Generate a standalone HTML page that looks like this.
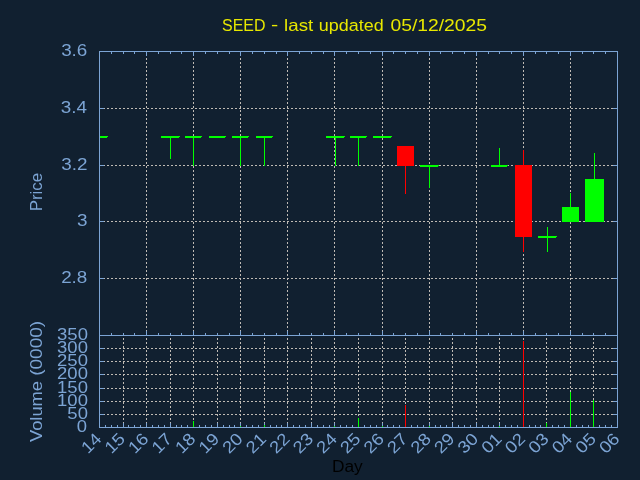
<!DOCTYPE html>
<html><head><meta charset="utf-8"><title>SEED chart</title>
<style>
html,body{margin:0;padding:0;background:#112030;}
svg{display:block;will-change:transform;}
text{font-family:"Liberation Sans",sans-serif;}
rect,line{shape-rendering:crispEdges;}
</style></head><body>
<svg width="640" height="480" viewBox="0 0 640 480">
<rect x="0" y="0" width="640" height="480" fill="#112030"/>
<text transform="translate(222.03,31.00) scale(0.9438,1)" font-size="16.9" fill="#e8e800">SEED</text>
<text transform="translate(270.93,29.60) scale(1.2800,1)" font-size="16.9" fill="#e8e800">-</text>
<text transform="translate(284.08,31.00) scale(1.1077,1)" font-size="16.9" fill="#e8e800">last</text>
<text transform="translate(318.83,31.00) scale(1.0612,1)" font-size="16.9" fill="#e8e800">updated</text>
<text transform="translate(390.48,31.00) scale(1.1414,1)" font-size="16.9" fill="#e8e800">05/12/2025</text>
<line x1="100" y1="108.5" x2="617" y2="108.5" stroke="#bfbab4" stroke-width="1" stroke-dasharray="2 2" stroke-dashoffset="1"/>
<line x1="100" y1="165.5" x2="617" y2="165.5" stroke="#bfbab4" stroke-width="1" stroke-dasharray="2 2" stroke-dashoffset="1"/>
<line x1="100" y1="221.5" x2="617" y2="221.5" stroke="#bfbab4" stroke-width="1" stroke-dasharray="2 2" stroke-dashoffset="1"/>
<line x1="100" y1="278.5" x2="617" y2="278.5" stroke="#bfbab4" stroke-width="1" stroke-dasharray="2 2" stroke-dashoffset="1"/>
<line x1="146.5" y1="52" x2="146.5" y2="335" stroke="#bfbab4" stroke-width="1" stroke-dasharray="2 2" stroke-dashoffset="2"/>
<line x1="193.5" y1="52" x2="193.5" y2="335" stroke="#bfbab4" stroke-width="1" stroke-dasharray="2 2" stroke-dashoffset="2"/>
<line x1="240.5" y1="52" x2="240.5" y2="335" stroke="#bfbab4" stroke-width="1" stroke-dasharray="2 2" stroke-dashoffset="2"/>
<line x1="287.5" y1="52" x2="287.5" y2="335" stroke="#bfbab4" stroke-width="1" stroke-dasharray="2 2" stroke-dashoffset="2"/>
<line x1="334.5" y1="52" x2="334.5" y2="335" stroke="#bfbab4" stroke-width="1" stroke-dasharray="2 2" stroke-dashoffset="2"/>
<line x1="382.5" y1="52" x2="382.5" y2="335" stroke="#bfbab4" stroke-width="1" stroke-dasharray="2 2" stroke-dashoffset="2"/>
<line x1="429.5" y1="52" x2="429.5" y2="335" stroke="#bfbab4" stroke-width="1" stroke-dasharray="2 2" stroke-dashoffset="2"/>
<line x1="476.5" y1="52" x2="476.5" y2="335" stroke="#bfbab4" stroke-width="1" stroke-dasharray="2 2" stroke-dashoffset="2"/>
<line x1="523.5" y1="52" x2="523.5" y2="335" stroke="#bfbab4" stroke-width="1" stroke-dasharray="2 2" stroke-dashoffset="2"/>
<line x1="570.5" y1="52" x2="570.5" y2="335" stroke="#bfbab4" stroke-width="1" stroke-dasharray="2 2" stroke-dashoffset="2"/>
<line x1="100" y1="348.5" x2="617" y2="348.5" stroke="#bfbab4" stroke-width="1" stroke-dasharray="2 2" stroke-dashoffset="1"/>
<line x1="100" y1="361.5" x2="617" y2="361.5" stroke="#bfbab4" stroke-width="1" stroke-dasharray="2 2" stroke-dashoffset="1"/>
<line x1="100" y1="374.5" x2="617" y2="374.5" stroke="#bfbab4" stroke-width="1" stroke-dasharray="2 2" stroke-dashoffset="1"/>
<line x1="100" y1="388.5" x2="617" y2="388.5" stroke="#bfbab4" stroke-width="1" stroke-dasharray="2 2" stroke-dashoffset="1"/>
<line x1="100" y1="401.5" x2="617" y2="401.5" stroke="#bfbab4" stroke-width="1" stroke-dasharray="2 2" stroke-dashoffset="1"/>
<line x1="100" y1="414.5" x2="617" y2="414.5" stroke="#bfbab4" stroke-width="1" stroke-dasharray="2 2" stroke-dashoffset="1"/>
<line x1="123.5" y1="336" x2="123.5" y2="427" stroke="#bfbab4" stroke-width="1" stroke-dasharray="2 2" stroke-dashoffset="2"/>
<line x1="146.5" y1="336" x2="146.5" y2="427" stroke="#bfbab4" stroke-width="1" stroke-dasharray="2 2" stroke-dashoffset="2"/>
<line x1="170.5" y1="336" x2="170.5" y2="427" stroke="#bfbab4" stroke-width="1" stroke-dasharray="2 2" stroke-dashoffset="2"/>
<line x1="193.5" y1="336" x2="193.5" y2="427" stroke="#bfbab4" stroke-width="1" stroke-dasharray="2 2" stroke-dashoffset="2"/>
<line x1="217.5" y1="336" x2="217.5" y2="427" stroke="#bfbab4" stroke-width="1" stroke-dasharray="2 2" stroke-dashoffset="2"/>
<line x1="240.5" y1="336" x2="240.5" y2="427" stroke="#bfbab4" stroke-width="1" stroke-dasharray="2 2" stroke-dashoffset="2"/>
<line x1="264.5" y1="336" x2="264.5" y2="427" stroke="#bfbab4" stroke-width="1" stroke-dasharray="2 2" stroke-dashoffset="2"/>
<line x1="287.5" y1="336" x2="287.5" y2="427" stroke="#bfbab4" stroke-width="1" stroke-dasharray="2 2" stroke-dashoffset="2"/>
<line x1="311.5" y1="336" x2="311.5" y2="427" stroke="#bfbab4" stroke-width="1" stroke-dasharray="2 2" stroke-dashoffset="2"/>
<line x1="334.5" y1="336" x2="334.5" y2="427" stroke="#bfbab4" stroke-width="1" stroke-dasharray="2 2" stroke-dashoffset="2"/>
<line x1="358.5" y1="336" x2="358.5" y2="427" stroke="#bfbab4" stroke-width="1" stroke-dasharray="2 2" stroke-dashoffset="2"/>
<line x1="382.5" y1="336" x2="382.5" y2="427" stroke="#bfbab4" stroke-width="1" stroke-dasharray="2 2" stroke-dashoffset="2"/>
<line x1="405.5" y1="336" x2="405.5" y2="427" stroke="#bfbab4" stroke-width="1" stroke-dasharray="2 2" stroke-dashoffset="2"/>
<line x1="429.5" y1="336" x2="429.5" y2="427" stroke="#bfbab4" stroke-width="1" stroke-dasharray="2 2" stroke-dashoffset="2"/>
<line x1="452.5" y1="336" x2="452.5" y2="427" stroke="#bfbab4" stroke-width="1" stroke-dasharray="2 2" stroke-dashoffset="2"/>
<line x1="476.5" y1="336" x2="476.5" y2="427" stroke="#bfbab4" stroke-width="1" stroke-dasharray="2 2" stroke-dashoffset="2"/>
<line x1="499.5" y1="336" x2="499.5" y2="427" stroke="#bfbab4" stroke-width="1" stroke-dasharray="2 2" stroke-dashoffset="2"/>
<line x1="523.5" y1="336" x2="523.5" y2="427" stroke="#bfbab4" stroke-width="1" stroke-dasharray="2 2" stroke-dashoffset="2"/>
<line x1="546.5" y1="336" x2="546.5" y2="427" stroke="#bfbab4" stroke-width="1" stroke-dasharray="2 2" stroke-dashoffset="2"/>
<line x1="570.5" y1="336" x2="570.5" y2="427" stroke="#bfbab4" stroke-width="1" stroke-dasharray="2 2" stroke-dashoffset="2"/>
<line x1="593.5" y1="336" x2="593.5" y2="427" stroke="#bfbab4" stroke-width="1" stroke-dasharray="2 2" stroke-dashoffset="2"/>
<rect x="99" y="51" width="519" height="1" fill="#7ca4d4"/>
<rect x="99" y="335" width="519" height="1" fill="#7ca4d4"/>
<rect x="99" y="427" width="519" height="1" fill="#7ca4d4"/>
<rect x="99" y="51" width="1" height="377" fill="#7ca4d4"/>
<rect x="617" y="51" width="1" height="377" fill="#7ca4d4"/>
<rect x="100" y="108" width="4" height="1" fill="#7ca4d4"/>
<rect x="613" y="108" width="4" height="1" fill="#7ca4d4"/>
<rect x="100" y="165" width="4" height="1" fill="#7ca4d4"/>
<rect x="613" y="165" width="4" height="1" fill="#7ca4d4"/>
<rect x="100" y="221" width="4" height="1" fill="#7ca4d4"/>
<rect x="613" y="221" width="4" height="1" fill="#7ca4d4"/>
<rect x="100" y="278" width="4" height="1" fill="#7ca4d4"/>
<rect x="613" y="278" width="4" height="1" fill="#7ca4d4"/>
<rect x="111" y="52" width="1" height="2" fill="#7ca4d4"/>
<rect x="111" y="333" width="1" height="2" fill="#7ca4d4"/>
<rect x="123" y="52" width="1" height="2" fill="#7ca4d4"/>
<rect x="123" y="333" width="1" height="2" fill="#7ca4d4"/>
<rect x="134" y="52" width="1" height="2" fill="#7ca4d4"/>
<rect x="134" y="333" width="1" height="2" fill="#7ca4d4"/>
<rect x="146" y="52" width="1" height="4" fill="#7ca4d4"/>
<rect x="146" y="331" width="1" height="4" fill="#7ca4d4"/>
<rect x="158" y="52" width="1" height="2" fill="#7ca4d4"/>
<rect x="158" y="333" width="1" height="2" fill="#7ca4d4"/>
<rect x="170" y="52" width="1" height="2" fill="#7ca4d4"/>
<rect x="170" y="333" width="1" height="2" fill="#7ca4d4"/>
<rect x="181" y="52" width="1" height="2" fill="#7ca4d4"/>
<rect x="181" y="333" width="1" height="2" fill="#7ca4d4"/>
<rect x="193" y="52" width="1" height="4" fill="#7ca4d4"/>
<rect x="193" y="331" width="1" height="4" fill="#7ca4d4"/>
<rect x="205" y="52" width="1" height="2" fill="#7ca4d4"/>
<rect x="205" y="333" width="1" height="2" fill="#7ca4d4"/>
<rect x="217" y="52" width="1" height="2" fill="#7ca4d4"/>
<rect x="217" y="333" width="1" height="2" fill="#7ca4d4"/>
<rect x="229" y="52" width="1" height="2" fill="#7ca4d4"/>
<rect x="229" y="333" width="1" height="2" fill="#7ca4d4"/>
<rect x="240" y="52" width="1" height="4" fill="#7ca4d4"/>
<rect x="240" y="331" width="1" height="4" fill="#7ca4d4"/>
<rect x="252" y="52" width="1" height="2" fill="#7ca4d4"/>
<rect x="252" y="333" width="1" height="2" fill="#7ca4d4"/>
<rect x="264" y="52" width="1" height="2" fill="#7ca4d4"/>
<rect x="264" y="333" width="1" height="2" fill="#7ca4d4"/>
<rect x="276" y="52" width="1" height="2" fill="#7ca4d4"/>
<rect x="276" y="333" width="1" height="2" fill="#7ca4d4"/>
<rect x="287" y="52" width="1" height="4" fill="#7ca4d4"/>
<rect x="287" y="331" width="1" height="4" fill="#7ca4d4"/>
<rect x="299" y="52" width="1" height="2" fill="#7ca4d4"/>
<rect x="299" y="333" width="1" height="2" fill="#7ca4d4"/>
<rect x="311" y="52" width="1" height="2" fill="#7ca4d4"/>
<rect x="311" y="333" width="1" height="2" fill="#7ca4d4"/>
<rect x="323" y="52" width="1" height="2" fill="#7ca4d4"/>
<rect x="323" y="333" width="1" height="2" fill="#7ca4d4"/>
<rect x="334" y="52" width="1" height="4" fill="#7ca4d4"/>
<rect x="334" y="331" width="1" height="4" fill="#7ca4d4"/>
<rect x="346" y="52" width="1" height="2" fill="#7ca4d4"/>
<rect x="346" y="333" width="1" height="2" fill="#7ca4d4"/>
<rect x="358" y="52" width="1" height="2" fill="#7ca4d4"/>
<rect x="358" y="333" width="1" height="2" fill="#7ca4d4"/>
<rect x="370" y="52" width="1" height="2" fill="#7ca4d4"/>
<rect x="370" y="333" width="1" height="2" fill="#7ca4d4"/>
<rect x="382" y="52" width="1" height="4" fill="#7ca4d4"/>
<rect x="382" y="331" width="1" height="4" fill="#7ca4d4"/>
<rect x="393" y="52" width="1" height="2" fill="#7ca4d4"/>
<rect x="393" y="333" width="1" height="2" fill="#7ca4d4"/>
<rect x="405" y="52" width="1" height="2" fill="#7ca4d4"/>
<rect x="405" y="333" width="1" height="2" fill="#7ca4d4"/>
<rect x="417" y="52" width="1" height="2" fill="#7ca4d4"/>
<rect x="417" y="333" width="1" height="2" fill="#7ca4d4"/>
<rect x="429" y="52" width="1" height="4" fill="#7ca4d4"/>
<rect x="429" y="331" width="1" height="4" fill="#7ca4d4"/>
<rect x="440" y="52" width="1" height="2" fill="#7ca4d4"/>
<rect x="440" y="333" width="1" height="2" fill="#7ca4d4"/>
<rect x="452" y="52" width="1" height="2" fill="#7ca4d4"/>
<rect x="452" y="333" width="1" height="2" fill="#7ca4d4"/>
<rect x="464" y="52" width="1" height="2" fill="#7ca4d4"/>
<rect x="464" y="333" width="1" height="2" fill="#7ca4d4"/>
<rect x="476" y="52" width="1" height="4" fill="#7ca4d4"/>
<rect x="476" y="331" width="1" height="4" fill="#7ca4d4"/>
<rect x="488" y="52" width="1" height="2" fill="#7ca4d4"/>
<rect x="488" y="333" width="1" height="2" fill="#7ca4d4"/>
<rect x="499" y="52" width="1" height="2" fill="#7ca4d4"/>
<rect x="499" y="333" width="1" height="2" fill="#7ca4d4"/>
<rect x="511" y="52" width="1" height="2" fill="#7ca4d4"/>
<rect x="511" y="333" width="1" height="2" fill="#7ca4d4"/>
<rect x="523" y="52" width="1" height="4" fill="#7ca4d4"/>
<rect x="523" y="331" width="1" height="4" fill="#7ca4d4"/>
<rect x="535" y="52" width="1" height="2" fill="#7ca4d4"/>
<rect x="535" y="333" width="1" height="2" fill="#7ca4d4"/>
<rect x="546" y="52" width="1" height="2" fill="#7ca4d4"/>
<rect x="546" y="333" width="1" height="2" fill="#7ca4d4"/>
<rect x="558" y="52" width="1" height="2" fill="#7ca4d4"/>
<rect x="558" y="333" width="1" height="2" fill="#7ca4d4"/>
<rect x="570" y="52" width="1" height="4" fill="#7ca4d4"/>
<rect x="570" y="331" width="1" height="4" fill="#7ca4d4"/>
<rect x="582" y="52" width="1" height="2" fill="#7ca4d4"/>
<rect x="582" y="333" width="1" height="2" fill="#7ca4d4"/>
<rect x="593" y="52" width="1" height="2" fill="#7ca4d4"/>
<rect x="593" y="333" width="1" height="2" fill="#7ca4d4"/>
<rect x="605" y="52" width="1" height="2" fill="#7ca4d4"/>
<rect x="605" y="333" width="1" height="2" fill="#7ca4d4"/>
<rect x="100" y="348" width="4" height="1" fill="#7ca4d4"/>
<rect x="613" y="348" width="4" height="1" fill="#7ca4d4"/>
<rect x="100" y="361" width="4" height="1" fill="#7ca4d4"/>
<rect x="613" y="361" width="4" height="1" fill="#7ca4d4"/>
<rect x="100" y="374" width="4" height="1" fill="#7ca4d4"/>
<rect x="613" y="374" width="4" height="1" fill="#7ca4d4"/>
<rect x="100" y="388" width="4" height="1" fill="#7ca4d4"/>
<rect x="613" y="388" width="4" height="1" fill="#7ca4d4"/>
<rect x="100" y="401" width="4" height="1" fill="#7ca4d4"/>
<rect x="613" y="401" width="4" height="1" fill="#7ca4d4"/>
<rect x="100" y="414" width="4" height="1" fill="#7ca4d4"/>
<rect x="613" y="414" width="4" height="1" fill="#7ca4d4"/>
<rect x="105" y="425" width="1" height="2" fill="#7ca4d4"/>
<rect x="111" y="425" width="1" height="2" fill="#7ca4d4"/>
<rect x="117" y="425" width="1" height="2" fill="#7ca4d4"/>
<rect x="123" y="423" width="1" height="4" fill="#7ca4d4"/>
<rect x="128" y="425" width="1" height="2" fill="#7ca4d4"/>
<rect x="134" y="425" width="1" height="2" fill="#7ca4d4"/>
<rect x="140" y="425" width="1" height="2" fill="#7ca4d4"/>
<rect x="146" y="423" width="1" height="4" fill="#7ca4d4"/>
<rect x="152" y="425" width="1" height="2" fill="#7ca4d4"/>
<rect x="158" y="425" width="1" height="2" fill="#7ca4d4"/>
<rect x="164" y="425" width="1" height="2" fill="#7ca4d4"/>
<rect x="170" y="423" width="1" height="4" fill="#7ca4d4"/>
<rect x="176" y="425" width="1" height="2" fill="#7ca4d4"/>
<rect x="181" y="425" width="1" height="2" fill="#7ca4d4"/>
<rect x="187" y="425" width="1" height="2" fill="#7ca4d4"/>
<rect x="193" y="423" width="1" height="4" fill="#7ca4d4"/>
<rect x="199" y="425" width="1" height="2" fill="#7ca4d4"/>
<rect x="205" y="425" width="1" height="2" fill="#7ca4d4"/>
<rect x="211" y="425" width="1" height="2" fill="#7ca4d4"/>
<rect x="217" y="423" width="1" height="4" fill="#7ca4d4"/>
<rect x="223" y="425" width="1" height="2" fill="#7ca4d4"/>
<rect x="229" y="425" width="1" height="2" fill="#7ca4d4"/>
<rect x="234" y="425" width="1" height="2" fill="#7ca4d4"/>
<rect x="240" y="423" width="1" height="4" fill="#7ca4d4"/>
<rect x="246" y="425" width="1" height="2" fill="#7ca4d4"/>
<rect x="252" y="425" width="1" height="2" fill="#7ca4d4"/>
<rect x="258" y="425" width="1" height="2" fill="#7ca4d4"/>
<rect x="264" y="423" width="1" height="4" fill="#7ca4d4"/>
<rect x="270" y="425" width="1" height="2" fill="#7ca4d4"/>
<rect x="276" y="425" width="1" height="2" fill="#7ca4d4"/>
<rect x="281" y="425" width="1" height="2" fill="#7ca4d4"/>
<rect x="287" y="423" width="1" height="4" fill="#7ca4d4"/>
<rect x="293" y="425" width="1" height="2" fill="#7ca4d4"/>
<rect x="299" y="425" width="1" height="2" fill="#7ca4d4"/>
<rect x="305" y="425" width="1" height="2" fill="#7ca4d4"/>
<rect x="311" y="423" width="1" height="4" fill="#7ca4d4"/>
<rect x="317" y="425" width="1" height="2" fill="#7ca4d4"/>
<rect x="323" y="425" width="1" height="2" fill="#7ca4d4"/>
<rect x="329" y="425" width="1" height="2" fill="#7ca4d4"/>
<rect x="334" y="423" width="1" height="4" fill="#7ca4d4"/>
<rect x="340" y="425" width="1" height="2" fill="#7ca4d4"/>
<rect x="346" y="425" width="1" height="2" fill="#7ca4d4"/>
<rect x="352" y="425" width="1" height="2" fill="#7ca4d4"/>
<rect x="358" y="423" width="1" height="4" fill="#7ca4d4"/>
<rect x="364" y="425" width="1" height="2" fill="#7ca4d4"/>
<rect x="370" y="425" width="1" height="2" fill="#7ca4d4"/>
<rect x="376" y="425" width="1" height="2" fill="#7ca4d4"/>
<rect x="382" y="423" width="1" height="4" fill="#7ca4d4"/>
<rect x="387" y="425" width="1" height="2" fill="#7ca4d4"/>
<rect x="393" y="425" width="1" height="2" fill="#7ca4d4"/>
<rect x="399" y="425" width="1" height="2" fill="#7ca4d4"/>
<rect x="405" y="423" width="1" height="4" fill="#7ca4d4"/>
<rect x="411" y="425" width="1" height="2" fill="#7ca4d4"/>
<rect x="417" y="425" width="1" height="2" fill="#7ca4d4"/>
<rect x="423" y="425" width="1" height="2" fill="#7ca4d4"/>
<rect x="429" y="423" width="1" height="4" fill="#7ca4d4"/>
<rect x="435" y="425" width="1" height="2" fill="#7ca4d4"/>
<rect x="440" y="425" width="1" height="2" fill="#7ca4d4"/>
<rect x="446" y="425" width="1" height="2" fill="#7ca4d4"/>
<rect x="452" y="423" width="1" height="4" fill="#7ca4d4"/>
<rect x="458" y="425" width="1" height="2" fill="#7ca4d4"/>
<rect x="464" y="425" width="1" height="2" fill="#7ca4d4"/>
<rect x="470" y="425" width="1" height="2" fill="#7ca4d4"/>
<rect x="476" y="423" width="1" height="4" fill="#7ca4d4"/>
<rect x="482" y="425" width="1" height="2" fill="#7ca4d4"/>
<rect x="488" y="425" width="1" height="2" fill="#7ca4d4"/>
<rect x="493" y="425" width="1" height="2" fill="#7ca4d4"/>
<rect x="499" y="423" width="1" height="4" fill="#7ca4d4"/>
<rect x="505" y="425" width="1" height="2" fill="#7ca4d4"/>
<rect x="511" y="425" width="1" height="2" fill="#7ca4d4"/>
<rect x="517" y="425" width="1" height="2" fill="#7ca4d4"/>
<rect x="523" y="423" width="1" height="4" fill="#7ca4d4"/>
<rect x="529" y="425" width="1" height="2" fill="#7ca4d4"/>
<rect x="535" y="425" width="1" height="2" fill="#7ca4d4"/>
<rect x="540" y="425" width="1" height="2" fill="#7ca4d4"/>
<rect x="546" y="423" width="1" height="4" fill="#7ca4d4"/>
<rect x="552" y="425" width="1" height="2" fill="#7ca4d4"/>
<rect x="558" y="425" width="1" height="2" fill="#7ca4d4"/>
<rect x="564" y="425" width="1" height="2" fill="#7ca4d4"/>
<rect x="570" y="423" width="1" height="4" fill="#7ca4d4"/>
<rect x="576" y="425" width="1" height="2" fill="#7ca4d4"/>
<rect x="582" y="425" width="1" height="2" fill="#7ca4d4"/>
<rect x="588" y="425" width="1" height="2" fill="#7ca4d4"/>
<rect x="593" y="423" width="1" height="4" fill="#7ca4d4"/>
<rect x="599" y="425" width="1" height="2" fill="#7ca4d4"/>
<rect x="605" y="425" width="1" height="2" fill="#7ca4d4"/>
<rect x="611" y="425" width="1" height="2" fill="#7ca4d4"/>
<rect x="100" y="136" width="8" height="1" fill="#00ff00"/>
<rect x="100" y="137" width="7" height="1" fill="#00ff00"/>
<rect x="170" y="136" width="1" height="23" fill="#00ff00"/>
<rect x="161" y="136" width="19" height="1" fill="#00ff00"/>
<rect x="161" y="137" width="18" height="1" fill="#00ff00"/>
<rect x="193" y="136" width="1" height="30" fill="#00ff00"/>
<rect x="185" y="136" width="17" height="1" fill="#00ff00"/>
<rect x="185" y="137" width="16" height="1" fill="#00ff00"/>
<rect x="209" y="136" width="17" height="1" fill="#00ff00"/>
<rect x="209" y="137" width="16" height="1" fill="#00ff00"/>
<rect x="240" y="136" width="1" height="30" fill="#00ff00"/>
<rect x="232" y="136" width="17" height="1" fill="#00ff00"/>
<rect x="232" y="137" width="16" height="1" fill="#00ff00"/>
<rect x="264" y="136" width="1" height="30" fill="#00ff00"/>
<rect x="256" y="136" width="17" height="1" fill="#00ff00"/>
<rect x="256" y="137" width="16" height="1" fill="#00ff00"/>
<rect x="335" y="136" width="1" height="30" fill="#00ff00"/>
<rect x="326" y="136" width="19" height="1" fill="#00ff00"/>
<rect x="326" y="137" width="18" height="1" fill="#00ff00"/>
<rect x="358" y="136" width="1" height="30" fill="#00ff00"/>
<rect x="350" y="136" width="17" height="1" fill="#00ff00"/>
<rect x="350" y="137" width="16" height="1" fill="#00ff00"/>
<rect x="373" y="136" width="19" height="1" fill="#00ff00"/>
<rect x="373" y="137" width="18" height="1" fill="#00ff00"/>
<rect x="405" y="146" width="1" height="48" fill="#ff0000"/>
<rect x="397" y="146" width="17" height="20" fill="#ff0000"/>
<rect x="429" y="165" width="1" height="23" fill="#00ff00"/>
<rect x="420" y="165" width="19" height="1" fill="#00ff00"/>
<rect x="420" y="166" width="18" height="1" fill="#00ff00"/>
<rect x="499" y="148" width="1" height="19" fill="#00ff00"/>
<rect x="491" y="165" width="17" height="1" fill="#00ff00"/>
<rect x="491" y="166" width="16" height="1" fill="#00ff00"/>
<rect x="523" y="150" width="1" height="102" fill="#ff0000"/>
<rect x="515" y="165" width="17" height="72" fill="#ff0000"/>
<rect x="547" y="227" width="1" height="25" fill="#00ff00"/>
<rect x="538" y="236" width="19" height="1" fill="#00ff00"/>
<rect x="538" y="237" width="18" height="1" fill="#00ff00"/>
<rect x="570" y="193" width="1" height="29" fill="#00ff00"/>
<rect x="562" y="207" width="17" height="15" fill="#00ff00"/>
<rect x="594" y="153" width="1" height="69" fill="#00ff00"/>
<rect x="585" y="179" width="19" height="43" fill="#00ff00"/>
<rect x="193" y="421" width="1" height="6" fill="#00ff00"/>
<rect x="240" y="426" width="1" height="1" fill="#00ff00"/>
<rect x="264" y="425" width="1" height="2" fill="#00ff00"/>
<rect x="334" y="426" width="1" height="1" fill="#00ff00"/>
<rect x="358" y="418" width="1" height="9" fill="#00ff00"/>
<rect x="382" y="426" width="1" height="1" fill="#00ff00"/>
<rect x="405" y="405" width="1" height="22" fill="#ff0000"/>
<rect x="429" y="426" width="1" height="1" fill="#00ff00"/>
<rect x="499" y="426" width="1" height="1" fill="#00ff00"/>
<rect x="523" y="341" width="1" height="86" fill="#ff0000"/>
<rect x="546" y="423" width="1" height="4" fill="#00ff00"/>
<rect x="570" y="392" width="1" height="35" fill="#00ff00"/>
<rect x="593" y="400" width="1" height="27" fill="#00ff00"/>
<text transform="translate(61.13,56.00) scale(1.1160,1)" font-size="16.9" fill="#7ca4d4">3.6</text>
<text transform="translate(60.85,113.00) scale(1.1160,1)" font-size="16.9" fill="#7ca4d4">3.4</text>
<text transform="translate(61.23,170.00) scale(1.1160,1)" font-size="16.9" fill="#7ca4d4">3.2</text>
<text transform="translate(76.88,226.00) scale(1.1160,1)" font-size="16.9" fill="#7ca4d4">3</text>
<text transform="translate(61.13,283.00) scale(1.1160,1)" font-size="16.9" fill="#7ca4d4">2.8</text>
<text transform="translate(76.76,432.00) scale(1.0960,1)" font-size="16.9" fill="#7ca4d4">0</text>
<text transform="translate(67.34,419.00) scale(1.0960,1)" font-size="16.9" fill="#7ca4d4">50</text>
<text transform="translate(57.06,406.00) scale(1.0960,1)" font-size="16.9" fill="#7ca4d4">100</text>
<text transform="translate(57.06,393.00) scale(1.0960,1)" font-size="16.9" fill="#7ca4d4">150</text>
<text transform="translate(57.06,379.00) scale(1.0960,1)" font-size="16.9" fill="#7ca4d4">200</text>
<text transform="translate(57.06,366.00) scale(1.0960,1)" font-size="16.9" fill="#7ca4d4">250</text>
<text transform="translate(57.06,353.00) scale(1.0960,1)" font-size="16.9" fill="#7ca4d4">300</text>
<text transform="translate(57.06,340.00) scale(1.0960,1)" font-size="16.9" fill="#7ca4d4">350</text>
<text transform="translate(42.00,211.35) rotate(-90) scale(1.0022,1)" font-size="16.9" fill="#7ca4d4">Price</text>
<text transform="translate(42.00,442.09) rotate(-90) scale(1.0862,1)" font-size="16.9" fill="#7ca4d4">Volume</text>
<text transform="translate(42.00,375.84) rotate(-90) scale(1.1258,1)" font-size="16.9" fill="#7ca4d4">(0000)</text>
<text transform="translate(331.91,472.00) scale(1.0263,1)" font-size="16.9" fill="#000000">Day</text>
<text transform="translate(102.50,440.00) rotate(-45) scale(1.1,1)" font-size="16.9" text-anchor="end" fill="#7ca4d4">14</text>
<text transform="translate(126.05,440.00) rotate(-45) scale(1.1,1)" font-size="16.9" text-anchor="end" fill="#7ca4d4">15</text>
<text transform="translate(149.59,440.00) rotate(-45) scale(1.1,1)" font-size="16.9" text-anchor="end" fill="#7ca4d4">16</text>
<text transform="translate(173.14,440.00) rotate(-45) scale(1.1,1)" font-size="16.9" text-anchor="end" fill="#7ca4d4">17</text>
<text transform="translate(196.68,440.00) rotate(-45) scale(1.1,1)" font-size="16.9" text-anchor="end" fill="#7ca4d4">18</text>
<text transform="translate(220.23,440.00) rotate(-45) scale(1.1,1)" font-size="16.9" text-anchor="end" fill="#7ca4d4">19</text>
<text transform="translate(243.77,440.00) rotate(-45) scale(1.1,1)" font-size="16.9" text-anchor="end" fill="#7ca4d4">20</text>
<text transform="translate(267.32,440.00) rotate(-45) scale(1.1,1)" font-size="16.9" text-anchor="end" fill="#7ca4d4">21</text>
<text transform="translate(290.86,440.00) rotate(-45) scale(1.1,1)" font-size="16.9" text-anchor="end" fill="#7ca4d4">22</text>
<text transform="translate(314.41,440.00) rotate(-45) scale(1.1,1)" font-size="16.9" text-anchor="end" fill="#7ca4d4">23</text>
<text transform="translate(337.95,440.00) rotate(-45) scale(1.1,1)" font-size="16.9" text-anchor="end" fill="#7ca4d4">24</text>
<text transform="translate(361.50,440.00) rotate(-45) scale(1.1,1)" font-size="16.9" text-anchor="end" fill="#7ca4d4">25</text>
<text transform="translate(385.05,440.00) rotate(-45) scale(1.1,1)" font-size="16.9" text-anchor="end" fill="#7ca4d4">26</text>
<text transform="translate(408.59,440.00) rotate(-45) scale(1.1,1)" font-size="16.9" text-anchor="end" fill="#7ca4d4">27</text>
<text transform="translate(432.14,440.00) rotate(-45) scale(1.1,1)" font-size="16.9" text-anchor="end" fill="#7ca4d4">28</text>
<text transform="translate(455.68,440.00) rotate(-45) scale(1.1,1)" font-size="16.9" text-anchor="end" fill="#7ca4d4">29</text>
<text transform="translate(479.23,440.00) rotate(-45) scale(1.1,1)" font-size="16.9" text-anchor="end" fill="#7ca4d4">30</text>
<text transform="translate(502.77,440.00) rotate(-45) scale(1.1,1)" font-size="16.9" text-anchor="end" fill="#7ca4d4">01</text>
<text transform="translate(526.32,440.00) rotate(-45) scale(1.1,1)" font-size="16.9" text-anchor="end" fill="#7ca4d4">02</text>
<text transform="translate(549.86,440.00) rotate(-45) scale(1.1,1)" font-size="16.9" text-anchor="end" fill="#7ca4d4">03</text>
<text transform="translate(573.41,440.00) rotate(-45) scale(1.1,1)" font-size="16.9" text-anchor="end" fill="#7ca4d4">04</text>
<text transform="translate(596.95,440.00) rotate(-45) scale(1.1,1)" font-size="16.9" text-anchor="end" fill="#7ca4d4">05</text>
<text transform="translate(620.50,440.00) rotate(-45) scale(1.1,1)" font-size="16.9" text-anchor="end" fill="#7ca4d4">06</text>
</svg>
</body></html>
